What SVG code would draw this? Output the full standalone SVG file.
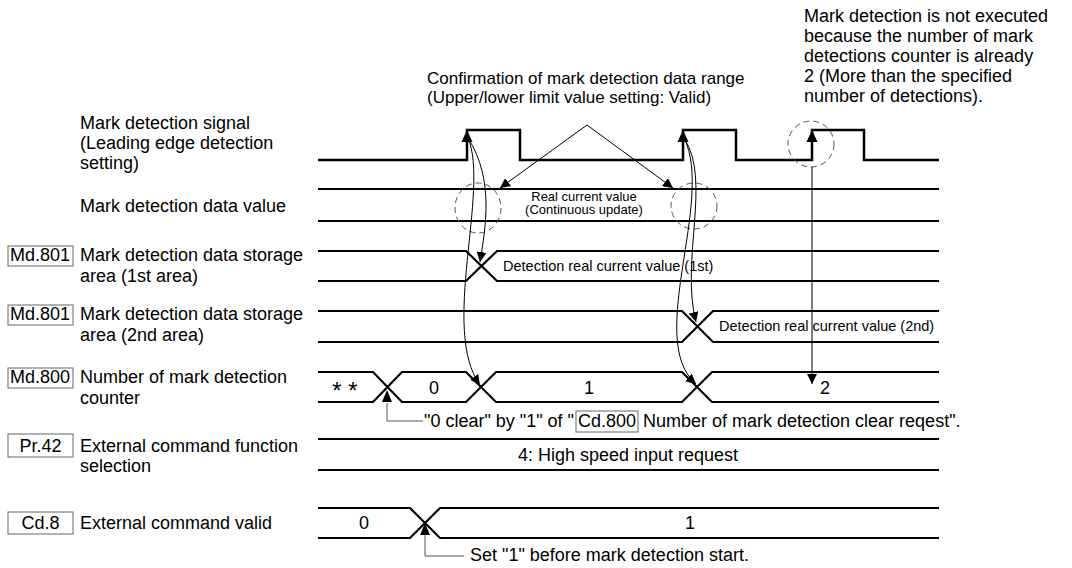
<svg xmlns="http://www.w3.org/2000/svg" width="1072" height="568" viewBox="0 0 1072 568">
<defs>
<style>
text{font-family:"Liberation Sans",Arial,Helvetica,sans-serif;fill:#000}
.t{font-size:18px}
.s{font-size:13px}
.m{font-size:14.5px}
.c{text-anchor:middle}
.sig{fill:none;stroke:#000;stroke-width:2.5}
.bus{fill:none;stroke:#000;stroke-width:2.2}
.thin{fill:none;stroke:#000;stroke-width:1}
.gray{fill:none;stroke:#555;stroke-width:1}
.dash{fill:none;stroke:#555;stroke-width:1;stroke-dasharray:6 4}
.box{fill:#fff;stroke:#666;stroke-width:1}
.tri{fill:#000}
</style>
<marker id="ah" viewBox="0 0 10 10" refX="10" refY="5" markerWidth="10" markerHeight="10" markerUnits="userSpaceOnUse" orient="auto">
<path d="M0,0 L10,5 L0,10 z" fill="#000"/>
</marker>
</defs>
<rect width="1072" height="568" fill="#fff"/>

<g id="label-signal">
<text class="t" x="80" y="129">Mark detection signal</text>
<text class="t" x="80" y="149">(Leading edge detection</text>
<text class="t" x="80" y="169">setting)</text>
</g>
<g id="label-datavalue">
<text class="t" x="80" y="212">Mark detection data value</text>
</g>
<g id="label-md801-1">
<rect class="box" x="8" y="246" width="65" height="20"/>
<text class="t" x="10" y="261">Md.801</text>
<text class="t" x="80" y="261">Mark detection data storage</text>
<text class="t" x="80" y="282">area (1st area)</text>
</g>
<g id="label-md801-2">
<rect class="box" x="8" y="305" width="65" height="20"/>
<text class="t" x="10" y="320">Md.801</text>
<text class="t" x="80" y="320">Mark detection data storage</text>
<text class="t" x="80" y="341">area (2nd area)</text>
</g>
<g id="label-md800">
<rect class="box" x="8" y="368" width="65" height="20"/>
<text class="t" x="10" y="383">Md.800</text>
<text class="t" x="80" y="383">Number of mark detection</text>
<text class="t" x="80" y="404">counter</text>
</g>
<g id="label-pr42">
<rect class="box" x="8" y="434" width="65" height="23"/>
<text class="t c" x="40.5" y="452">Pr.42</text>
<text class="t" x="80" y="452">External command function</text>
<text class="t" x="80" y="472">selection</text>
</g>
<g id="label-cd8">
<rect class="box" x="8" y="512" width="65" height="22"/>
<text class="t c" x="40.5" y="529">Cd.8</text>
<text class="t" x="80" y="529">External command valid</text>
</g>

<g id="signal">
<path class="sig" d="M318,160 H467 V130 H520 V160 H683 V130 H736 V160 H812 V130 H864 V160 H939"/>
<path class="tri" d="M467,130 l-5.5,12 h11 z"/>
<path class="tri" d="M683,130 l-5.5,12 h11 z"/>
<path class="tri" d="M812,130 l-5.5,12 h11 z"/>
</g>

<g id="row-datavalue">
<path class="bus" d="M318,189 H939 M318,221 H939"/>
<text class="s c" x="584" y="201">Real current value</text>
<text class="s c" x="584" y="214">(Continuous update)</text>
</g>

<g id="row-md801-1">
<path class="bus" d="M318,251 H466 L497,281 H939 M318,281 H466 L497,251 H939"/>
<text class="m" x="503" y="271">Detection real current value (1st)</text>
</g>

<g id="row-md801-2">
<path class="bus" d="M318,311 H682 L713,342 H939 M318,342 H682 L713,311 H939"/>
<text class="m" x="719" y="331">Detection real current value (2nd)</text>
</g>

<g id="row-md800">
<path class="bus" d="M318,372 H373 L402,402 H466 L496,372 H682 L712,402 H939 M318,402 H373 L402,372 H466 L496,402 H682 L712,372 H939"/>
<text class="t c" x="345" y="399" style="font-size:24px">* *</text>
<text class="t c" x="434" y="394">0</text>
<text class="t c" x="589" y="394">1</text>
<text class="t c" x="825" y="394">2</text>
</g>

<g id="row-pr42">
<path class="bus" d="M318,439 H939 M318,470 H939"/>
<text class="t c" x="628" y="461">4: High speed input request</text>
</g>

<g id="row-cd8">
<path class="bus" d="M318,508 H410 L440,538 H939 M318,538 H410 L440,508 H939"/>
<text class="t c" x="364" y="529">0</text>
<text class="t c" x="690" y="529">1</text>
</g>

<g id="annotations">
<ellipse class="dash" cx="478" cy="208" rx="23" ry="25"/>
<ellipse class="dash" cx="694" cy="206" rx="23" ry="23"/>
<ellipse class="dash" cx="811" cy="144" rx="23" ry="23"/>
<text class="t" x="427" y="84" style="font-size:17px">Confirmation of mark detection data range</text>
<text class="t" x="427" y="103" style="font-size:17px">(Upper/lower limit value setting: Valid)</text>
<text class="t" x="804" y="22">Mark detection is not executed</text>
<text class="t" x="804" y="42">because the number of mark</text>
<text class="t" x="804" y="62">detections counter is already</text>
<text class="t" x="804" y="82">2 (More than the specified</text>
<text class="t" x="804" y="102">number of detections).</text>
</g>

<g id="connectors">
<path class="thin" d="M587,125 L500,188" marker-end="url(#ah)"/>
<path class="thin" d="M587,125 L673,188" marker-end="url(#ah)"/>
<path class="thin" d="M468,138 C495,180 485,230 480,262" marker-end="url(#ah)"/>
<path class="thin" d="M468,138 C490,190 440,330 480,385" marker-end="url(#ah)"/>
<path class="thin" d="M684,138 C712,180 680,260 696,322" marker-end="url(#ah)"/>
<path class="thin" d="M684,138 C715,200 645,340 696,384" marker-end="url(#ah)"/>
<path class="thin" d="M812,167 V384" marker-end="url(#ah)"/>
<path class="gray" d="M387,403 V421 H423"/>
<path class="tri" d="M387,390 l-5,12 h10 z"/>
<text class="t" x="424" y="427">"0 clear" by "1" of "</text>
<rect class="box" x="576" y="411" width="62" height="21"/>
<text class="t" x="578" y="427">Cd.800</text>
<text class="t" x="643" y="427">Number of mark detection clear reqest".</text>
<path class="gray" d="M425,535 V556 H464"/>
<path class="tri" d="M425,523 l-5,12 h10 z"/>
<text class="t" x="470" y="561">Set "1" before mark detection start.</text>
</g>
</svg>
